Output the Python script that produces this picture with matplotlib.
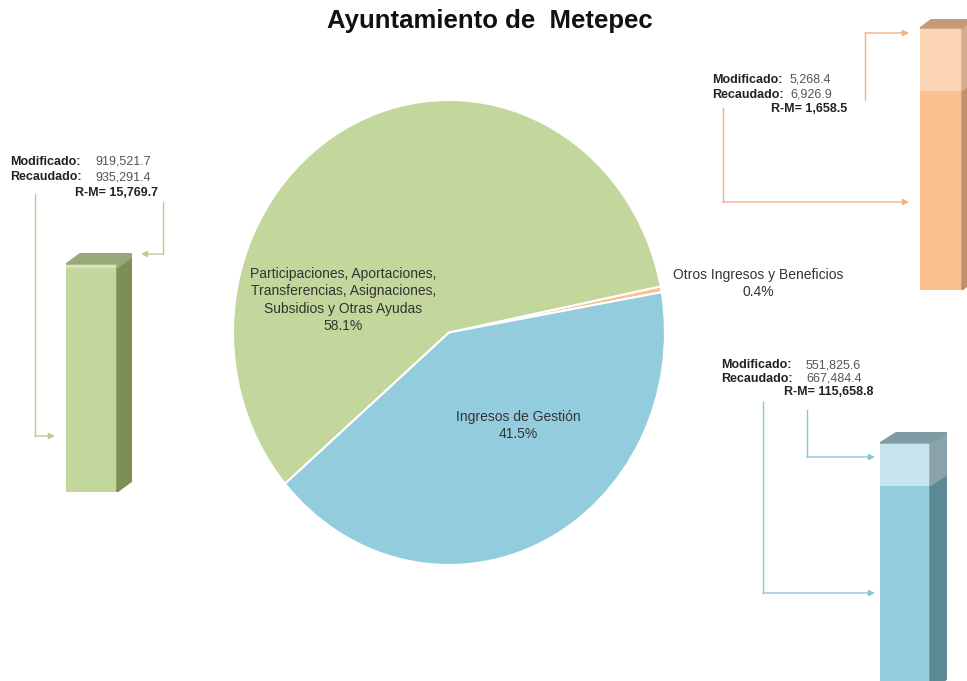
import matplotlib
matplotlib.use("Agg")
import matplotlib.pyplot as plt
from matplotlib.patches import Polygon

plt.rcParams['font.family'] = ['Liberation Sans', 'DejaVu Sans']

W, H = 967, 681

# data
title = "Ayuntamiento de  Metepec"
categories = ["Participaciones, Aportaciones,\nTransferencias, Asignaciones,\nSubsidios y Otras Ayudas",
              "Ingresos de Gestión",
              "Otros Ingresos y Beneficios"]
shares = [58.1, 41.5, 0.4]
modificado = [919521.7, 551825.6, 5268.4]
recaudado = [935291.4, 667484.4, 6926.9]
rm = [15769.7, 115658.8, 1658.5]

# colours: front, light front, side, light side, top, connector
green = dict(front="#c3d69b", light="#d7e4bd", side="#7d8f55", lside="#9aa97a", top="#98a978", line="#b9cc92")
blue = dict(front="#93cddd", light="#c6e4ec", side="#5d8995", lside="#8aa3ab", top="#7f9ba4", line="#8cc6d6")
orange = dict(front="#fac090", light="#fcd5b5", side="#c0916a", lside="#d3ad8e", top="#c49a78", line="#f4b183")
styles = [green, blue, orange]

fig = plt.figure(figsize=(W / 100, H / 100), dpi=100)


def px_axes(l, t, w, h, **kw):
    return fig.add_axes([l / W, 1 - (t + h) / H, w / W, h / H], **kw)


# pie
pax = px_axes(233, 100, 432, 465)
pie_order = [2, 0, 1]
pax.pie([shares[i] for i in pie_order], colors=[styles[i]["front"] for i in pie_order],
        startangle=10, counterclock=True,
        wedgeprops=dict(edgecolor="white", linewidth=1.5))
pax.set_aspect("auto")
pax.set_xlim(-1, 1)
pax.set_ylim(-1, 1)
lab_pos = [(-0.49, 0.14), (0.32, -0.40), (1.43, 0.21)]
for i, (x, y) in enumerate(lab_pos):
    pax.text(x, y, f"{categories[i]}\n{shares[i]}%", ha="center", va="center",
             fontsize=10, color="#333333", linespacing=1.3, clip_on=False)


# 3D bars
def bar3d(i, l, t, w, dx, dy, b):
    h = b - t
    st = styles[i]
    R = recaudado[i]
    m = modificado[i]
    s = R / h
    ax = px_axes(l, t - dy, w + dx, h + dy)
    ax.set_xlim(0, w + dx)
    ax.set_ylim(0, (h + dy) * s)
    ax.axis("off")
    ax.bar(0, m, width=w, align="edge", color=st["front"])
    ax.bar(0, R - m, bottom=m, width=w, align="edge", color=st["light"])
    d = dy * s
    ax.add_patch(Polygon([(w, 0), (w + dx, d), (w + dx, m + d), (w, m)], color=st["side"]))
    ax.add_patch(Polygon([(w, m), (w + dx, m + d), (w + dx, R + d), (w, R)], color=st["lside"]))
    ax.add_patch(Polygon([(0, R), (w, R), (w + dx, R + d), (dx, R + d)], color=st["top"]))


bar3d(0, 66, 264, 51, 15, 11, 492)
bar3d(1, 880, 443, 50, 17, 11, 690)
bar3d(2, 920, 28, 42, 12, 9, 290)

# overlay for connectors and value boxes
ov = fig.add_axes([0, 0, 1, 1], zorder=5)
ov.set_xlim(0, W)
ov.set_ylim(H, 0)
ov.axis("off")
ov.patch.set_alpha(0)


def connector(x0, y0, y1, x1, color):
    ov.plot([x0, x0], [y0, y1], color=color, lw=1)
    ov.annotate("", xy=(x1, y1), xytext=(x0, y1),
                arrowprops=dict(arrowstyle="-|>", color=color, lw=1, mutation_scale=9,
                                shrinkA=0, shrinkB=0))


def valuebox(i, x, y, vx, rx, step):
    kw_lab = dict(fontsize=9, fontweight="bold", color="#222222", va="center")
    kw_val = dict(fontsize=9, color="#555555", va="center")
    ov.text(x, y, "Modificado:", **kw_lab)
    ov.text(vx, y, f"{modificado[i]:,.1f}", **kw_val)
    ov.text(x, y + step, "Recaudado:", **kw_lab)
    ov.text(vx, y + step, f"{recaudado[i]:,.1f}", **kw_val)
    ov.text(rx, y + 2 * step, f"R-M= {rm[i]:,.1f}", ha="right", **kw_lab)


valuebox(0, 10, 162, 95, 158, 15.5)
connector(35, 194, 436, 55, green["line"])
connector(163, 202, 254, 141, green["line"])

valuebox(2, 712, 80, 790, 847, 14.5)
connector(865, 100, 33, 909, orange["line"])
connector(723, 108, 202, 909, orange["line"])

valuebox(1, 721, 365, 806, 873, 13.5)
connector(807, 410, 457, 875, blue["line"])
connector(763, 402, 593, 875, blue["line"])

fig.text(0.507, 1 - 21 / H, title, ha="center", va="center", fontsize=18.5, fontweight="bold",
         color="#111111")

fig.savefig("out.png", dpi=100)
